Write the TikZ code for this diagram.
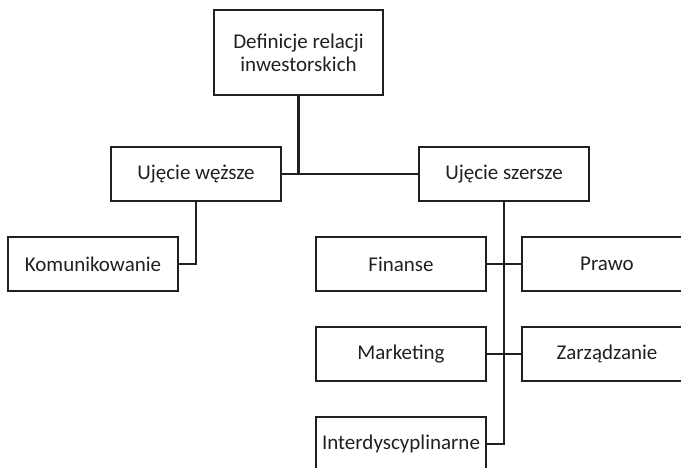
\documentclass[tikz,border=0pt]{standalone}
\usepackage{fontspec}
\setmainfont{Carlito}
\usepackage{tikz}

\definecolor{ink}{HTML}{231F20}

\begin{document}
\begin{tikzpicture}[x=1pt,y=-1pt]
	\tikzstyle{every node}+=[inner sep=0pt]
	\tikzstyle{box}=[draw=ink, line width=1.3pt, text=ink, minimum width=170pt, minimum height=54pt, align=center, font=\fontsize{21}{23}\selectfont]
	\tikzstyle{link}=[draw=ink, line width=2.4pt]
	\useasboundingbox (0,0) rectangle (681,467);
	\clip (0,0) rectangle (681,467);
	% top level
	\node [box, minimum width=169pt, minimum height=85pt] (def) at (298.5,52.5) {Definicje relacji\\inwestorskich};
	% second level
	\node [box] (wezsze) at (196,174) {Ujęcie węższe};
	\node [box] (szersze) at (504,174) {Ujęcie szersze};
	% leaves
	\node [box] (kom) at (93,264) {Komunikowanie};
	\node [box] (fin) at (401,264) {Finanse};
	\node [box] (prawo) at (607,264) {Prawo};
	\node [box] (mark) at (401,354) {Marketing};
	\node [box] (zarz) at (607,354) {Zarządzanie};
	\node [box] (inter) at (401,444) {Interdyscyplinarne};
	% connectors
	\draw [link] (wezsze.east) -- (szersze.west);
	\draw [link] (def.south) -- (def.south |- wezsze.east);
	\draw [link] (wezsze.south) |- (kom.east);
	\draw [link] (szersze.south) |- (inter.east);
	\draw [link] (fin.east) -- (prawo.west);
	\draw [link] (mark.east) -- (zarz.west);
\end{tikzpicture}
\end{document}
